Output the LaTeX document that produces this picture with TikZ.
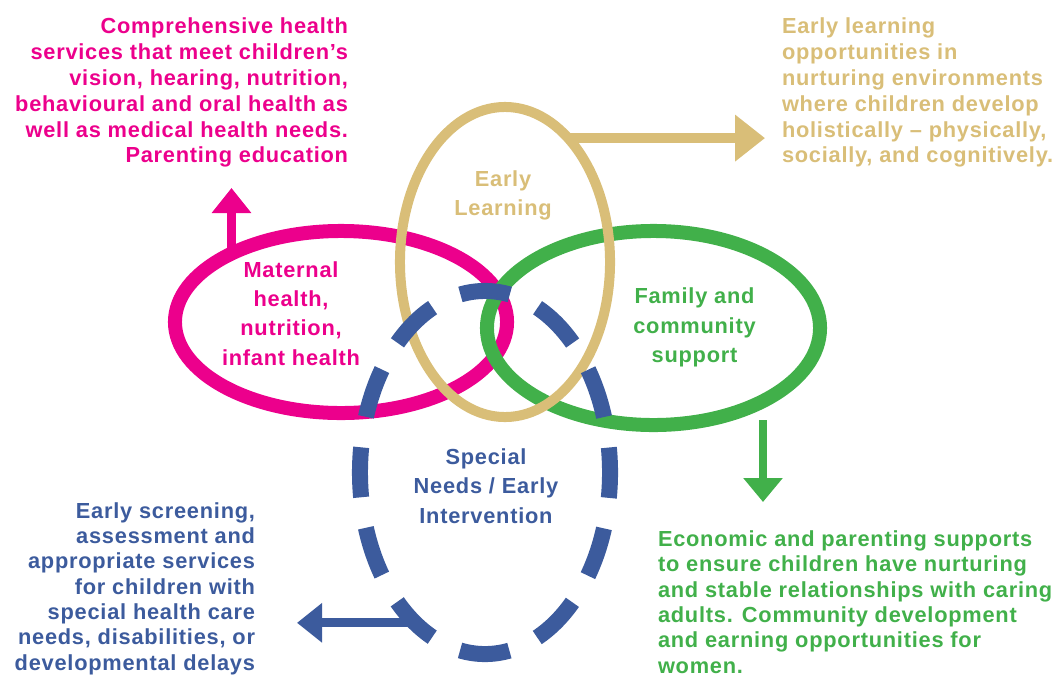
\documentclass[tikz,border=0pt]{standalone}
\usepackage{fontspec}
\setmainfont{Liberation Sans}[LetterSpace=3.5]
\usetikzlibrary{shapes.geometric, arrows.meta, positioning}

\definecolor{healthpink}{RGB}{236,0,140}
\definecolor{learntan}{RGB}{217,190,120}
\definecolor{familygreen}{RGB}{65,176,74}
\definecolor{specialblue}{RGB}{60,91,157}

\begin{document}
\begin{tikzpicture}[x=0.025cm, y=-0.025cm, every node/.style={outer sep=0pt, inner sep=0pt}]

\tikzstyle{ring}=[ellipse, draw]
\tikzstyle{bigtext}=[font=\fontsize{15.5}{18.45}\selectfont\bfseries]
\tikzstyle{ringtext}=[font=\fontsize{15.5}{20.8}\selectfont\bfseries, align=center]

\useasboundingbox (0,0) rectangle (1058,677);

% the four rings
\node (pinkring) [ring, draw=healthpink, line width=0.35cm, minimum width=8.3cm, minimum height=4.55cm] at (341,322) {};
\node (greenring) [ring, draw=familygreen, line width=0.35cm, minimum width=8.325cm, minimum height=4.85cm] at (653.5,328) {};
\node (tanring) [ring, draw=learntan, line width=0.25cm, minimum width=5.25cm, minimum height=7.75cm] at (505,262) {};
\node (bluering) [ring, draw=specialblue, line width=0.4cm, minimum width=6.25cm, minimum height=9.075cm, dash pattern=on 1.25cm off 0.7725cm, dash phase=0.625cm] at (485,472.5) {};

% labels inside
\node (learnlabel) [ringtext, text=learntan] at (503,195.5) {Early\\Learning};
\node (maternallabel) [ringtext, text=healthpink] at (291,313.5) {Maternal\\health,\\nutrition,\\infant health};
\node (familylabel) [ringtext, text=familygreen] at (694.5,327.5) {Family and\\community\\support};
\node (speciallabel) [ringtext, text=specialblue] at (486,486) {Special\\Needs / Early\\Intervention};

% outer texts
\node (healthtext) [bigtext, text=healthpink, align=right, anchor=east] at (348,92.5) {Comprehensive health\\services that meet children’s\\vision, hearing, nutrition,\\behavioural and oral health as\\well as medical health needs.\\Parenting education};
\node (learntext) [bigtext, text=learntan, align=left, anchor=west] at (782,92.5) {Early learning\\opportunities in\\nurturing environments\\where children develop\\holistically – physically,\\socially, and cognitively.};
\node (specialtext) [bigtext, font=\fontsize{15.5}{18}\selectfont\bfseries, text=specialblue, align=right, anchor=east] at (255,588.5) {Early screening,\\assessment and\\appropriate services\\for children with\\special health care\\needs, disabilities, or\\developmental delays};
\node (familytext) [bigtext, font=\fontsize{15.5}{18}\selectfont\bfseries, text=familygreen, align=left, anchor=west] at (658,602) {Economic and parenting supports\\to ensure children have nurturing\\and stable relationships with caring\\adults. Community development\\and earning opportunities for\\women.};

% arrows
\coordinate (healthtip) at (227.5,188);
\coordinate (learntip) at (765,137);
\coordinate (familystart) at (763,420);
\coordinate (familytip) at (763,502);
\coordinate (specialtip) at (297,625);

\draw [healthpink, line width=0.225cm, -{Triangle[length=0.625cm, width=0.95cm]}] (pinkring.148) -- (pinkring.148 |- healthtip);
\draw [learntan, line width=0.25cm, -{Triangle[length=0.75cm, width=1.125cm]}] (tanring.63.6) -- (tanring.63.6 -| learntip);
\draw [familygreen, line width=0.2cm, -{Triangle[length=0.6cm, width=0.95cm]}] (familystart) -- (familytip);
\draw [specialblue, line width=0.225cm, -{Triangle[length=0.625cm, width=0.95cm]}] (bluering.245) -- (bluering.245 -| specialtip);

\end{tikzpicture}
\end{document}
